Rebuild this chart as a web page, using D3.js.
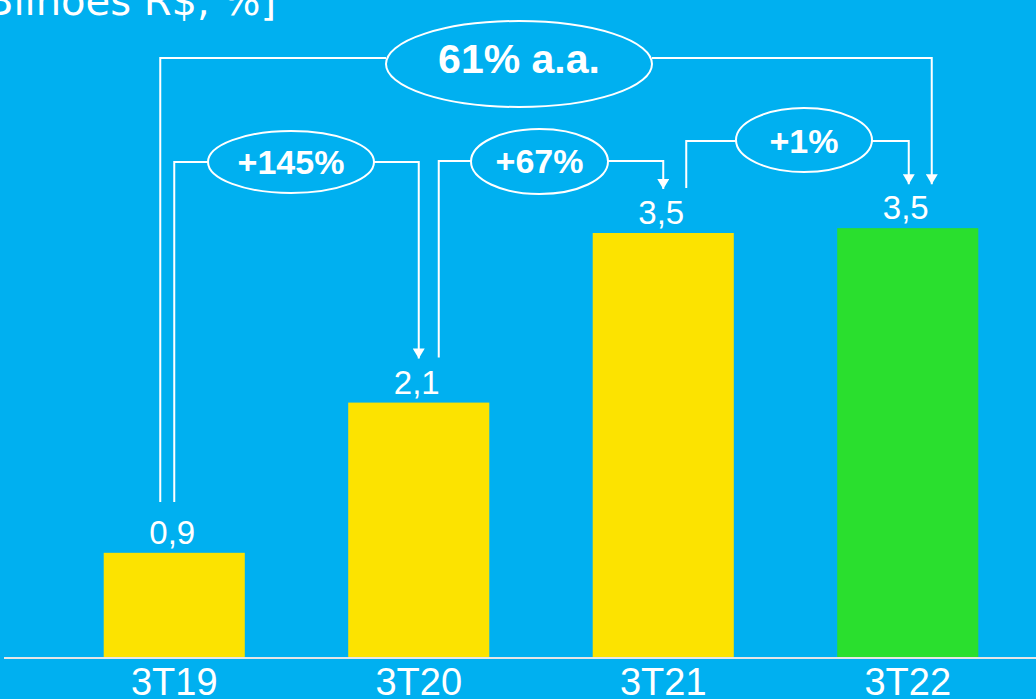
<!DOCTYPE html>
<html>
<head>
<meta charset="utf-8">
<script src="https://cdn.jsdelivr.net/npm/d3@7"></script>
<style>
  html, body { margin: 0; padding: 0; background: #00B0F0; }
  svg { display: block; }
</style>
</head>
<body>
<svg id="chart" width="1036" height="699"></svg>
<script>
// Quarterly values (R$ bilhões)
const categories = ["3T19", "3T20", "3T21", "3T22"];
const values = [0.86, 2.1, 3.5, 3.54];
const barColors = ["#FCE300", "#FCE300", "#FCE300", "#2ADF2E"];

// Growth callouts: from category index -> to category index
const growthLabels = ["61% a.a.", "+145%", "+67%", "+1%"];
const growthFrom = [0, 0, 1, 2];
const growthTo = [3, 1, 2, 3];

const unitLabel = "[Bilhões R$, %]";

const W = 1036, H = 699;
const svg = d3.select("#chart");

svg.append("rect").attr("width", W).attr("height", H).attr("fill", "#00B0F0");

const baseline = 657;
const x = d3.scaleBand()
  .domain(categories)
  .range([52, 1030])
  .paddingInner(0.423)
  .paddingOuter(0.2115);
const y = d3.scaleLinear().domain([0, 3.5]).range([baseline, 233]);
const cx = i => x(categories[i]) + x.bandwidth() / 2;

// Unit label (runs past the top-left edge)
svg.append("text")
  .attr("x", 276).attr("y", 15)
  .attr("text-anchor", "end")
  .attr("fill", "#fff")
  .attr("font-family", "'DejaVu Sans', sans-serif")
  .attr("font-size", 40)
  .text(unitLabel);

// Bars
svg.selectAll("rect.bar")
  .data(values)
  .join("rect")
  .attr("class", "bar")
  .attr("x", (d, i) => x(categories[i]))
  .attr("y", d => y(d))
  .attr("width", x.bandwidth())
  .attr("height", d => baseline - y(d))
  .attr("fill", (d, i) => barColors[i]);

// Category axis
const xAxis = d3.axisBottom(x).tickSize(0).tickPadding(0);
const gx = svg.append("g").attr("transform", `translate(0,${baseline})`).call(xAxis);
gx.select(".domain").remove();
svg.append("line")
  .attr("x1", 4).attr("x2", W)
  .attr("y1", baseline + 1).attr("y2", baseline + 1)
  .attr("stroke", "#E6E6E6").attr("stroke-width", 2);
gx.selectAll(".tick text")
  .attr("y", 38)
  .attr("dy", 0)
  .attr("fill", "#fff")
  .attr("font-family", "'Liberation Sans', Arial, sans-serif")
  .attr("font-size", 38);

// Value labels
const fmt = v => d3.format(".1f")(v).replace(".", ",");
svg.selectAll("text.val")
  .data(values)
  .join("text")
  .attr("class", "val")
  .attr("x", (d, i) => cx(i) - 2)
  .attr("y", d => y(d) - 9)
  .attr("text-anchor", "middle")
  .attr("fill", "#fff")
  .attr("font-family", "'Liberation Sans', Arial, sans-serif")
  .attr("font-size", 33)
  .text(d => fmt(d));

// Arrowhead marker
svg.append("defs").append("marker")
  .attr("id", "arrow")
  .attr("viewBox", "0 0 10 12")
  .attr("refX", 10).attr("refY", 6)
  .attr("markerWidth", 11).attr("markerHeight", 12)
  .attr("markerUnits", "userSpaceOnUse")
  .attr("orient", "auto")
  .append("path")
  .attr("d", "M0,0 L10,6 L0,12 Z")
  .attr("fill", "#fff");

// Callout geometry: connector height, ellipse centre/radii, text baseline, line offsets from bar centres
const callouts = [
  { yc: 58, ex: 519, ey: 64, rx: 133, ry: 43, fs: 41, ty: 73, dx0: -14, dx1: 24 },
  { yc: 162, ex: 291, ey: 162, rx: 83, ry: 31, fs: 34, ty: 174, dx0: 0, dx1: 0 },
  { yc: 161, ex: 539.5, ey: 161.5, rx: 68.5, ry: 32.5, fs: 34, ty: 173, dx0: 20, dx1: 0 },
  { yc: 141, ex: 804, ey: 140, rx: 68, ry: 32, fs: 34, ty: 153, dx0: 23, dx1: 1 }
];
const lineEnd = i => i === 0 ? 502 : y(values[i]) - 45;
const arrowEnd = i => y(values[i]) - 44;

const g = svg.append("g").attr("fill", "none").attr("stroke", "#fff").attr("stroke-width", 2);
growthLabels.forEach((lab, k) => {
  const c = callouts[k];
  const a = growthFrom[k], b = growthTo[k];
  const x0 = cx(a) + c.dx0, x1 = cx(b) + c.dx1;
  // start leg
  g.append("path")
    .attr("d", `M${x0},${lineEnd(a)} V${c.yc} H${c.ex - c.rx}`);
  // end leg with arrow
  g.append("path")
    .attr("d", `M${c.ex + c.rx},${c.yc} H${x1} V${arrowEnd(b)}`)
    .attr("marker-end", "url(#arrow)");
  g.append("ellipse")
    .attr("cx", c.ex).attr("cy", c.ey)
    .attr("rx", c.rx).attr("ry", c.ry)
    .attr("fill", "#00B0F0");
  svg.append("text")
    .attr("x", c.ex).attr("y", c.ty)
    .attr("text-anchor", "middle")
    .attr("fill", "#fff")
    .attr("font-family", "'Liberation Sans', Arial, sans-serif")
    .attr("font-weight", "bold")
    .attr("font-size", c.fs)
    .text(lab);
});
</script>
</body>
</html>
